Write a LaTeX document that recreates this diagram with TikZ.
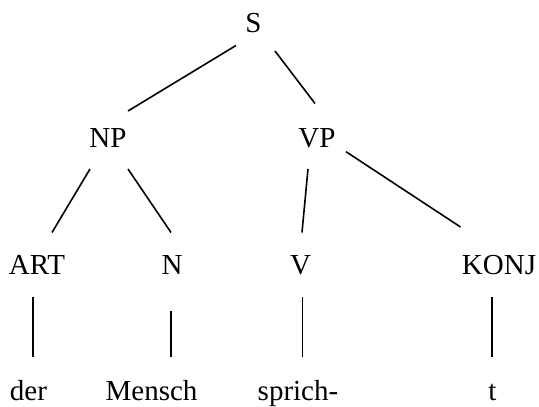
\documentclass[tikz,border=0pt]{standalone}
\usepackage{fontspec}
\setmainfont{Liberation Serif}
\usetikzlibrary{calc}
\begin{document}
\begin{tikzpicture}[x=1pt,y=1pt,
  lab/.style={inner sep=0pt,anchor=base,font=\fontsize{29}{31}\selectfont},
  edge/.style={line width=1.6pt,black}]
\useasboundingbox (0,0) rectangle (539,407);
% categories
\node[lab] (S) at (253.5,374) {S};
\node[lab] (NP) at (108,259) {NP};
\node[lab] (VP) at (317,259) {VP};
\node[lab] (ART) at (37,132) {ART};
\node[lab] (N) at (172,132) {N};
\node[lab] (V) at (300.5,132) {V};
\node[lab] (KONJ) at (499,132) {KONJ};
% words
\node[lab] (der) at (28.5,6) {der};
\node[lab] (Mensch) at (151.5,6) {Mensch};
\node[lab] (sprich) at (298,6) {sprich-};
\node[lab] (t) at (492.5,6) {t};
% connectors
\draw[edge] ($(S.base)+(-17.5,-12.5)$) -- ($(NP.base)+(20,37)$);
\draw[edge] ($(S.base)+(21.5,-18)$) -- ($(VP.base)+(-2,44.5)$);
\draw[edge] ($(NP.base)+(-18,-21)$) -- ($(ART.base)+(15,42.5)$);
\draw[edge] ($(NP.base)+(20,-21)$) -- ($(N.base)+(-1,42.5)$);
\draw[edge] ($(VP.base)+(-9,-21)$) -- ($(V.base)+(1.5,42.5)$);
\draw[edge] ($(VP.base)+(29,-3.7)$) -- ($(KONJ.base)+(-38.5,48)$);
\draw[edge] ($(ART.base)+(-4,-22.3)$) -- ($(der.base)+(4.5,44.4)$);
\draw[edge] ($(N.base)+(-1,-36)$) -- ($(Mensch.base)+(19.5,44.4)$);
\draw[edge] ($(V.base)+(2,-22.3)$) -- ($(sprich.base)+(4.5,44.4)$);
\draw[edge] ($(KONJ.base)+(-7,-22.3)$) -- ($(t.base)+(-0.5,44.4)$);
\end{tikzpicture}
\end{document}
